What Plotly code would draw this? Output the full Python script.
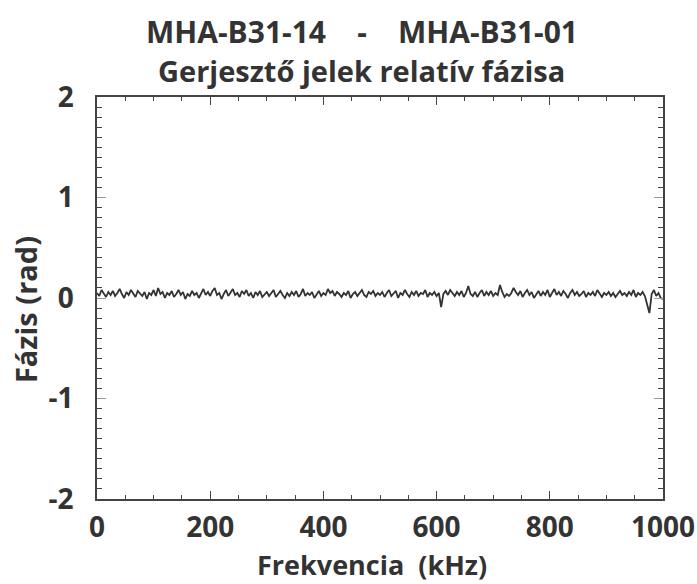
import plotly.graph_objects as go

# Frequency grid (kHz) and relative phase (rad)
freq_step_khz = 4
phase_rad = [
    0.05, 0.02, 0.08, 0.04, 0.01, 0.06, 0.03, 0.07, 0.02, 0.05, 0.09, 0.04, 0.00, 0.06, 0.03, 0.08, 0.05, 0.01, 0.07, 0.04, 0.02, 0.06, -0.01, 0.05, 0.03,
    0.08, 0.02, 0.10, 0.04, 0.06, 0.00, 0.05, 0.03, 0.07, 0.01, 0.04, 0.08, 0.03, 0.06, -0.01, 0.04, 0.02, 0.07, 0.03, 0.05, 0.00, 0.04, 0.09, 0.03, 0.06,
    0.02, 0.07, 0.10, 0.03, 0.05, -0.01, 0.04, 0.08, 0.02, 0.06, 0.09, 0.03, 0.05, 0.01, 0.07, 0.04, 0.08, 0.02, 0.05, 0.00, 0.06, 0.03, 0.07, 0.01, 0.04,
    0.06, 0.02, 0.05, 0.08, 0.01, 0.04, 0.07, 0.03, 0.00, 0.05, 0.02, 0.06, 0.03, 0.07, 0.01, 0.04, 0.09, 0.02, 0.05, 0.03, 0.06, 0.00, 0.04, 0.07, 0.02,
    0.05, 0.03, 0.09, 0.05, 0.07, 0.02, 0.06, 0.04, 0.01, 0.05, 0.03, 0.07, 0.00, 0.04, 0.06, 0.02, 0.05, 0.08, 0.03, 0.01, 0.06, 0.04, 0.07, 0.02, 0.05,
    0.03, 0.06, 0.01, 0.05, 0.08, 0.02, 0.04, 0.07, 0.00, 0.05, 0.03, 0.08, 0.04, 0.01, 0.06, 0.03, 0.07, 0.02, 0.05, 0.04, 0.08, 0.01, 0.05, 0.03, 0.06,
    0.02, 0.05, -0.09, 0.04, 0.07, 0.03, 0.08, 0.05, 0.02, 0.06, 0.03, 0.07, 0.01, 0.05, 0.12, 0.04, 0.02, 0.06, 0.01, 0.05, 0.08, 0.02, 0.06, 0.03, 0.07,
    0.02, 0.05, 0.03, 0.13, 0.06, 0.01, 0.04, 0.02, 0.05, 0.10, 0.06, 0.03, 0.07, 0.01, 0.05, 0.08, 0.03, 0.06, 0.00, 0.04, 0.07, 0.02, 0.06, 0.03, 0.08,
    0.01, 0.05, 0.09, 0.03, 0.06, 0.02, 0.07, 0.04, 0.00, 0.05, 0.08, 0.03, 0.06, 0.02, 0.04, 0.07, 0.01, 0.05, 0.03, 0.06, 0.02, 0.08, 0.04, 0.01, 0.05,
    0.03, 0.06, 0.02, 0.05, 0.01, 0.04, 0.07, 0.03, 0.05, 0.02, 0.06, 0.03, 0.08, 0.01, 0.05, 0.03, 0.06, 0.02, -0.06, -0.15, 0.04, 0.08, 0.02, 0.05, 0.00,
    -0.01,
]
freq_khz = [i * freq_step_khz for i in range(len(phase_rad))]

x_ticks = [0, 200, 400, 600, 800, 1000]
y_ticks = [-2, -1, 0, 1, 2]

title_line1 = "MHA-B31-14\u00a0\u00a0\u00a0\u00a0-\u00a0\u00a0\u00a0\u00a0MHA-B31-01"
title_line2 = "Gerjesztő jelek relatív fázisa"
x_title = "Frekvencia\u00a0\u00a0(kHz)"
y_title = "Fázis (rad)"

FONT = "Open Sans"
TXT = "#333333"
AX = "#444444"

fig = go.Figure()
fig.add_trace(go.Scatter(x=freq_khz, y=phase_rad, mode="lines",
                         line=dict(color="#333333", width=1.8), showlegend=False))

fig.update_layout(
    width=697, height=584,
    margin=dict(l=97, r=34, t=97, b=85),
    paper_bgcolor="white", plot_bgcolor="white",
    font=dict(family=FONT, color=TXT, size=28, weight="bold"),
)
fig.update_xaxes(
    range=[0, 1000], tickvals=x_ticks, ticktext=[str(v) for v in x_ticks],
    showline=True, linecolor=AX, linewidth=1.5, mirror="ticks",
    ticks="inside", ticklen=8, tickcolor=AX, tickwidth=1,
    minor=dict(ticks="inside", ticklen=4, dtick=50, tickcolor=AX, tickwidth=1),
    showgrid=False, zeroline=False, automargin=False,
    tickfont=dict(family=FONT, size=28, color=TXT, weight="bold"),
    ticklabelstandoff=3,
)
fig.update_yaxes(
    range=[-2, 2], tickvals=y_ticks, ticktext=[str(v) for v in y_ticks],
    showline=True, linecolor=AX, linewidth=1.5, mirror="ticks",
    ticks="inside", ticklen=9, tickcolor="#999999", tickwidth=1,
    minor=dict(ticks="inside", ticklen=5, dtick=0.1, tickcolor=AX, tickwidth=1),
    showgrid=False, zeroline=False, automargin=False,
    tickfont=dict(family=FONT, size=28, color=TXT, weight="bold"),
    ticklabelstandoff=16,
)

fig.add_annotation(text=title_line1, xref="paper", yref="paper", x=0.468, y=1.0,
                   yshift=66, xanchor="center", yanchor="middle", showarrow=False,
                   font=dict(family=FONT, size=30, color=TXT, weight="bold"))
fig.add_annotation(text=title_line2, xref="paper", yref="paper", x=0.468, y=1.0,
                   yshift=27, xanchor="center", yanchor="middle", showarrow=False,
                   font=dict(family=FONT, size=29, color=TXT, weight="bold"))
fig.add_annotation(text=x_title, xref="paper", yref="paper", x=0.485, y=0,
                   yshift=-85, xanchor="center", yanchor="bottom", showarrow=False,
                   borderpad=0,
                   font=dict(family=FONT, size=27, color=TXT, weight="bold"))
fig.add_annotation(text=y_title, xref="paper", yref="paper", x=0, y=0.47,
                   xshift=-72, xanchor="center", yanchor="middle", showarrow=False,
                   textangle=-90,
                   font=dict(family=FONT, size=29, color=TXT, weight="bold"))

fig.write_html("out.html")
